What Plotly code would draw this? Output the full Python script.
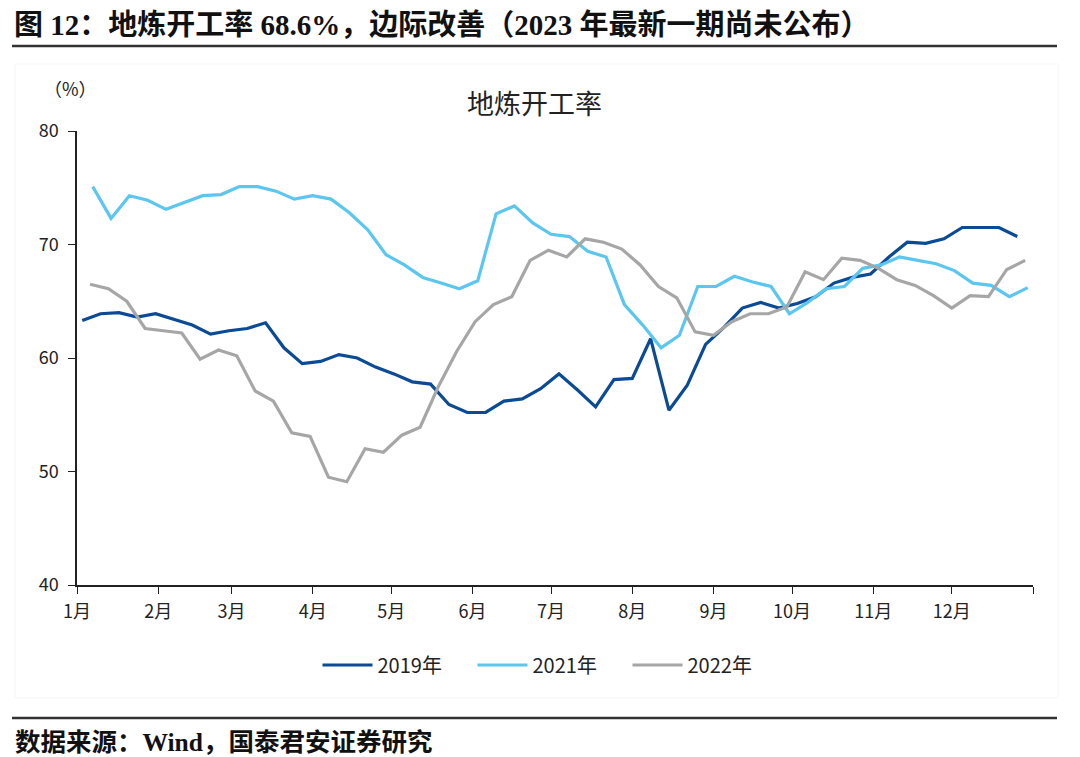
import plotly.graph_objects as go
import pandas as pd

# ---- data (weekly) ----
series_names = ["2019年", "2021年", "2022年"]
start_dates = ["2022-01-03", "2022-01-07", "2022-01-06"]

v2019 = [63.3, 63.9, 64.0, 63.6, 63.9, 63.4, 62.9, 62.1, 62.4, 62.6, 63.1, 60.9,
         59.5, 59.7, 60.3, 60.0, 59.2, 58.6, 57.9, 57.7, 55.9, 55.2, 55.2, 56.2,
         56.4, 57.3, 58.6, 57.2, 55.7, 58.1, 58.2, 61.7, 55.4, 57.6, 61.2, 62.7,
         64.4, 64.9, 64.4, 64.8, 65.4, 66.6, 67.1, 67.4, 68.9, 70.2, 70.1, 70.5,
         71.5, 71.5, 71.5, 70.7]
v2021 = [75.1, 72.3, 74.3, 73.9, 73.1, 73.7, 74.3, 74.4, 75.1, 75.1, 74.7, 74.0,
         74.3, 74.0, 72.8, 71.3, 69.1, 68.2, 67.1, 66.6, 66.1, 66.8, 72.7, 73.4,
         71.9, 70.9, 70.7, 69.4, 68.9, 64.7, 62.9, 60.9, 62.0, 66.3, 66.3, 67.2,
         66.7, 66.3, 63.9, 64.9, 66.1, 66.3, 67.9, 68.2, 68.9, 68.6, 68.3, 67.7,
         66.6, 66.4, 65.4, 66.2]
v2022 = [66.5, 66.1, 65.0, 62.6, 62.4, 62.2, 59.9, 60.7, 60.2, 57.1, 56.2, 53.4,
         53.1, 49.5, 49.1, 52.0, 51.7, 53.2, 53.9, 57.5, 60.6, 63.2, 64.7, 65.4,
         68.6, 69.5, 68.9, 70.5, 70.2, 69.6, 68.2, 66.3, 65.3, 62.3, 62.0, 63.2,
         63.9, 63.9, 64.5, 67.6, 66.9, 68.8, 68.6, 67.9, 66.9, 66.4, 65.5, 64.4,
         65.5, 65.4, 67.8, 68.6]
values = [v2019, v2021, v2022]
colors = ["#0B4A94", "#5BC6F0", "#A6A6A6"]

month_ticks = ["2022-%02d-01" % m for m in range(1, 13)] + ["2023-01-01"]
month_labels = ["1月", "2月", "3月", "4月", "5月", "6月", "7月", "8月",
                "9月", "10月", "11月", "12月", ""]
y_ticks = [40, 50, 60, 70, 80]

title_text = "图 12：地炼开工率 68.6%，边际改善（2023 年最新一期尚未公布）"
chart_title = "地炼开工率"
unit_text = "（%）"
source_text = "数据来源：Wind，国泰君安证券研究"

FONT = "Noto Sans CJK SC"
BOLD_FONT = "Liberation Serif, Noto Sans CJK SC"

fig = go.Figure()
for name, start, vals, col in zip(series_names, start_dates, values, colors):
    x = pd.date_range(start, periods=len(vals), freq="7D")
    fig.add_trace(go.Scatter(x=x, y=vals, name=name, mode="lines",
                             line=dict(color=col, width=3.2)))

# reference pixel -> paper helpers (plot area in reference: x 77..1033, y 131..585)
def px(xp):
    return (xp - 77) / 956.0

def py(yp):
    return (585 - yp) / 454.0

fig.update_layout(
    width=1072, height=749,
    margin=dict(l=69, r=47, t=123, b=172),
    paper_bgcolor="white", plot_bgcolor="white",
    font=dict(family=FONT, size=18, color="#222222"),
    showlegend=True,
    legend=dict(orientation="h", x=px(550), xanchor="center", y=py(665), yanchor="middle",
                font=dict(family=FONT, size=20, color="#222222"),
                itemwidth=50, entrywidth=90, entrywidthmode="pixels",
                traceorder="normal"),
    xaxis=dict(type="date", range=["2022-01-01", "2023-01-01"],
               tickvals=month_ticks, ticktext=month_labels, showline=True,
               linecolor="#222222", linewidth=1.5, ticks="outside", ticklen=7,
               tickcolor="#222222", showgrid=False, zeroline=False,
               ticklabelstandoff=3,
               tickfont=dict(family=FONT, size=18, color="#222222")),
    yaxis=dict(range=[40, 80], tickvals=y_ticks, showline=True, linecolor="#222222",
               linewidth=1.5, ticks="outside", ticklen=7, tickcolor="#222222",
               showgrid=False, zeroline=False, ticklabelstandoff=6,
               tickfont=dict(family=FONT, size=18, color="#222222")),
)

annotations = [
    dict(text="<b>" + title_text + "</b>", x=px(13), y=py(25), xanchor="left", yanchor="middle",
         font=dict(family=BOLD_FONT, size=29, color="#111111"), borderpad=0),
    dict(text=unit_text, x=px(70), y=py(88), xanchor="center", yanchor="middle",
         font=dict(family=FONT, size=18, color="#222222")),
    dict(text=chart_title, x=px(534), y=py(103), xanchor="center", yanchor="middle",
         font=dict(family=FONT, size=27, color="#222222")),
    dict(text="<b>" + source_text + "</b>", x=px(13), y=py(742), xanchor="left", yanchor="middle",
         font=dict(family=BOLD_FONT, size=25.5, color="#111111")),
]
for a in annotations:
    a.update(xref="paper", yref="paper", showarrow=False)
fig.update_layout(annotations=annotations)

# faint frame around the chart block, and the two heavy rules
fig.add_shape(type="rect", xref="paper", yref="paper", x0=px(15), x1=px(1058),
              y0=py(698), y1=py(64), line=dict(color="#F5F5F5", width=1))
fig.add_shape(type="line", xref="paper", yref="paper", x0=px(12), x1=px(1057),
              y0=py(46), y1=py(46), line=dict(color="#333333", width=2.5))
fig.add_shape(type="line", xref="paper", yref="paper", x0=px(12), x1=px(1057),
              y0=py(718), y1=py(718), line=dict(color="#333333", width=2.5))

fig.write_html("out.html")
